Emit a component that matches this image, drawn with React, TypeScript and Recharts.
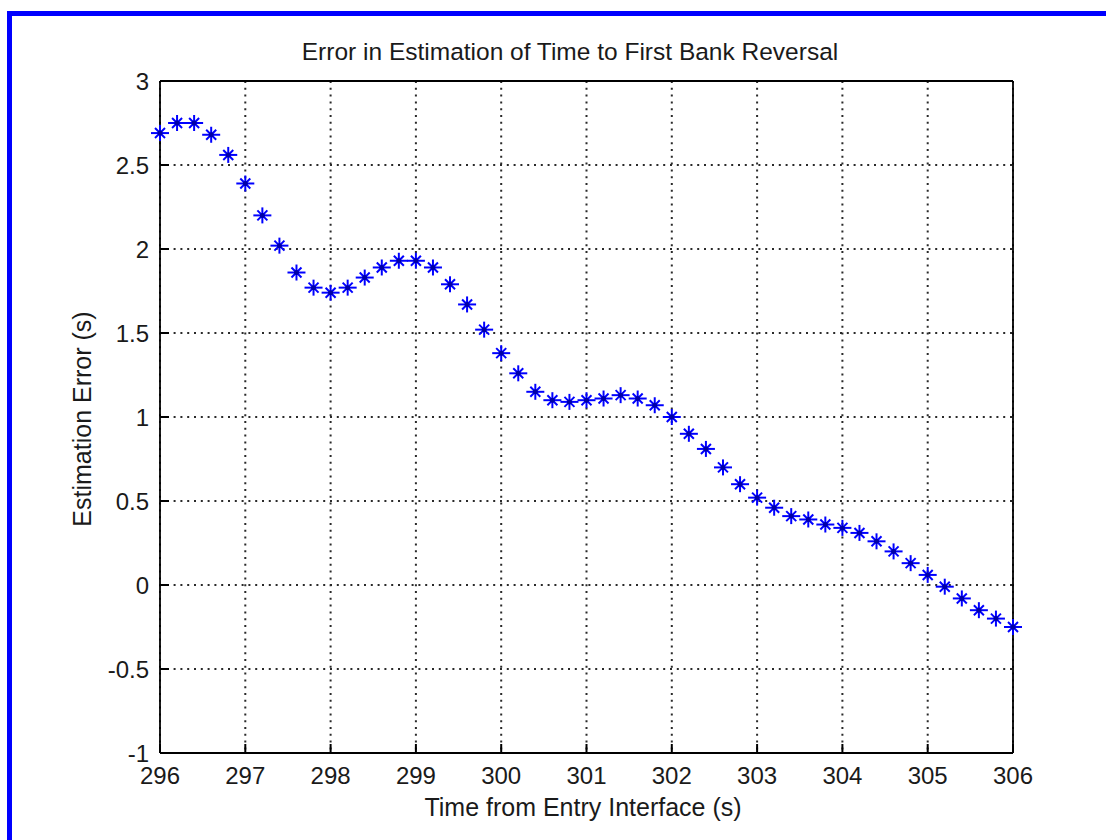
import React from "react";
import { ScatterChart, Scatter, XAxis, YAxis, CartesianGrid } from "recharts";

// sample times (s) and the estimation error at each sample
const times = [
  296.0, 296.2, 296.4, 296.6, 296.8, 297.0, 297.2, 297.4, 297.6, 297.8,
  298.0, 298.2, 298.4, 298.6, 298.8, 299.0, 299.2, 299.4, 299.6, 299.8,
  300.0, 300.2, 300.4, 300.6, 300.8, 301.0, 301.2, 301.4, 301.6, 301.8,
  302.0, 302.2, 302.4, 302.6, 302.8, 303.0, 303.2, 303.4, 303.6, 303.8,
  304.0, 304.2, 304.4, 304.6, 304.8, 305.0, 305.2, 305.4, 305.6, 305.8,
  306.0,
];
const errors = [
  2.69, 2.75, 2.75, 2.68, 2.56, 2.39, 2.2, 2.02, 1.86, 1.77,
  1.74, 1.77, 1.83, 1.89, 1.93, 1.93, 1.89, 1.79, 1.67, 1.52,
  1.38, 1.26, 1.15, 1.1, 1.09, 1.1, 1.11, 1.13, 1.11, 1.07,
  1.0, 0.9, 0.81, 0.7, 0.6, 0.52, 0.46, 0.41, 0.39, 0.36,
  0.34, 0.31, 0.26, 0.2, 0.13, 0.06, -0.01, -0.08, -0.15, -0.2,
  -0.25,
];
const xTicks = [296, 297, 298, 299, 300, 301, 302, 303, 304, 305, 306];
const yTicks = [-1, -0.5, 0, 0.5, 1, 1.5, 2, 2.5, 3];

const data = times.map((t, i) => ({ t, err: errors[i] }));

const FONT = '"Liberation Sans", Arial, Helvetica, sans-serif';
const TEXT = "#1a1a1a";
const TICK_LEN = 9;

// MATLAB-style asterisk marker
function Star(props: any) {
  const { cx, cy } = props;
  if (cx == null || cy == null) return null;
  return (
    <g stroke="#0000ff" strokeWidth={2}>
      <line x1={cx - 9} y1={cy} x2={cx + 9} y2={cy} />
      <line x1={cx} y1={cy - 8} x2={cx} y2={cy + 8} />
      <line x1={cx - 5} y1={cy - 5} x2={cx + 5} y2={cy + 5} />
      <line x1={cx - 5} y1={cy + 5} x2={cx + 5} y2={cy - 5} />
      <circle cx={cx} cy={cy} r={2.5} fill="#0000a8" stroke="none" />
    </g>
  );
}

function BottomTick(props: any) {
  const { x, y, payload } = props;
  return (
    <g>
      <line x1={x} y1={y} x2={x} y2={y - TICK_LEN} stroke="#000" strokeWidth={2} />
      <text
        x={x}
        y={y + 22}
        textAnchor="middle"
        dominantBaseline="central"
        fontFamily={FONT}
        fontSize={24}
        fill={TEXT}
      >
        {payload.value}
      </text>
    </g>
  );
}

function LeftTick(props: any) {
  const { x, y, payload } = props;
  return (
    <g>
      <line x1={x} y1={y} x2={x + TICK_LEN} y2={y} stroke="#000" strokeWidth={2} />
      <text
        x={x - 11}
        y={y}
        textAnchor="end"
        dominantBaseline="central"
        fontFamily={FONT}
        fontSize={24}
        fill={TEXT}
      >
        {payload.value}
      </text>
    </g>
  );
}

function TopTick(props: any) {
  const { x, y } = props;
  return <line x1={x} y1={y} x2={x} y2={y + TICK_LEN} stroke="#000" strokeWidth={2} />;
}

function RightTick(props: any) {
  const { x, y } = props;
  return <line x1={x} y1={y} x2={x - TICK_LEN} y2={y} stroke="#000" strokeWidth={2} />;
}

const axisLine = { stroke: "#000", strokeWidth: 1.8 };

export default function App() {
  return (
    <div
      style={{
        position: "absolute",
        left: 0,
        top: 0,
        width: 1106,
        height: 840,
        overflow: "hidden",
        background: "#fff",
        fontFamily: FONT,
      }}
    >
      {/* window frame */}
      <div
        style={{
          position: "absolute",
          left: 7,
          top: 11,
          width: 1200,
          height: 1000,
          borderTop: "5px solid #0000ff",
          borderLeft: "5px solid #0000ff",
        }}
      />
      <ScatterChart
        width={1106}
        height={840}
        margin={{ top: 80, right: 92, bottom: 86, left: 159 }}
        style={{ position: "absolute", left: 0, top: 0 }}
      >
        <CartesianGrid
          xAxisId="bottom"
          yAxisId="left"
          stroke="#2a2a2a"
          strokeWidth={2}
          strokeDasharray="2 4.8"
          horizontalValues={yTicks}
          verticalValues={xTicks}
        />
        <XAxis
          xAxisId="bottom"
          type="number"
          dataKey="t"
          domain={[296, 306]}
          ticks={xTicks}
          height={1}
          tickSize={0}
          tickMargin={0}
          tick={<BottomTick />}
          tickLine={false}
          axisLine={axisLine}
          interval={0}
        />
        <XAxis
          xAxisId="top"
          orientation="top"
          type="number"
          dataKey="t"
          domain={[296, 306]}
          ticks={xTicks}
          height={1}
          tickSize={0}
          tickMargin={0}
          tick={<TopTick />}
          tickLine={false}
          axisLine={axisLine}
          interval={0}
        />
        <YAxis
          yAxisId="left"
          type="number"
          dataKey="err"
          domain={[-1, 3]}
          ticks={yTicks}
          width={1}
          tickSize={0}
          tickMargin={0}
          tick={<LeftTick />}
          tickLine={false}
          axisLine={axisLine}
          interval={0}
        />
        <YAxis
          yAxisId="right"
          orientation="right"
          type="number"
          dataKey="err"
          domain={[-1, 3]}
          ticks={yTicks}
          width={1}
          tickSize={0}
          tickMargin={0}
          tick={<RightTick />}
          tickLine={false}
          axisLine={axisLine}
          interval={0}
        />
        <Scatter
          data={data}
          xAxisId="bottom"
          yAxisId="left"
          shape={<Star />}
          isAnimationActive={false}
        />
      </ScatterChart>
      <div
        style={{
          position: "absolute",
          left: 270,
          width: 600,
          top: 52,
          transform: "translateY(-50%)",
          textAlign: "center",
          fontSize: 24.5,
          color: TEXT,
          whiteSpace: "nowrap",
        }}
      >
        Error in Estimation of Time to First Bank Reversal
      </div>
      <div
        style={{
          position: "absolute",
          left: 283,
          width: 600,
          top: 807,
          transform: "translateY(-50%)",
          textAlign: "center",
          fontSize: 25,
          color: TEXT,
          whiteSpace: "nowrap",
        }}
      >
        Time from Entry Interface (s)
      </div>
      <div
        style={{
          position: "absolute",
          left: 81.5,
          top: 419,
          transform: "translate(-50%, -50%) rotate(-90deg)",
          fontSize: 25,
          color: TEXT,
          whiteSpace: "nowrap",
        }}
      >
        Estimation Error (s)
      </div>
    </div>
  );
}
